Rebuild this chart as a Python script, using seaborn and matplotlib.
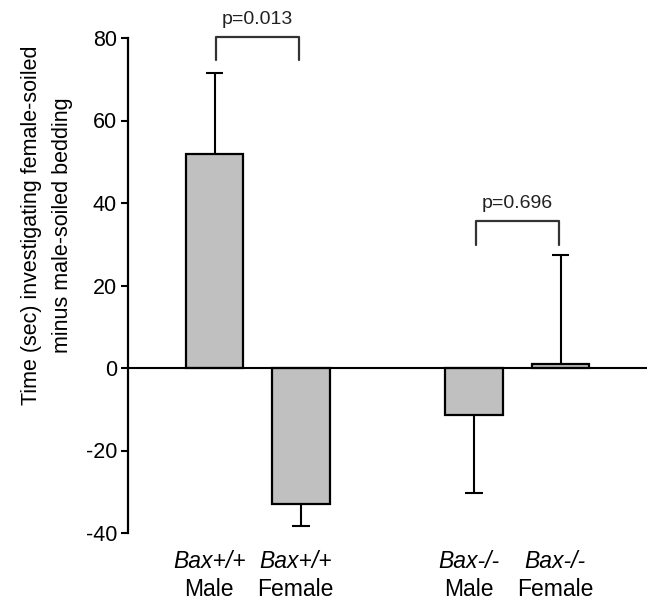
import numpy as np
import pandas as pd
import matplotlib
matplotlib.use("Agg")
import matplotlib.pyplot as plt
import matplotlib.transforms as mtransforms
import seaborn as sns

# ---- data ----
genotypes = ["Bax+/+", "Bax+/+", "Bax-/-", "Bax-/-"]
sexes = ["Male", "Female", "Male", "Female"]
means = [52.0, -33.0, -11.5, 1.0]
sems = [19.5, 5.4, 18.8, 26.3]
p_labels = ["p=0.013", "p=0.696"]
yticks = [-40, -20, 0, 20, 40, 60, 80]

sns.set_theme(style="white")
plt.rcParams["font.family"] = ["Liberation Sans", "DejaVu Sans"]
plt.rcParams["text.color"] = "black"
plt.rcParams["axes.labelcolor"] = "black"
plt.rcParams["ytick.color"] = "black"

cats = [f"{g} {s}" for g, s in zip(genotypes, sexes)]
df = pd.DataFrame({"cat": cats, "value": means})
order = [cats[0], cats[1], " ", cats[2], cats[3]]

fig = plt.figure(figsize=(6.62, 6.12), dpi=100)
ax = fig.add_axes([128 / 662, 1 - 533 / 612, (647 - 128) / 662, (533 - 38) / 612])

sns.barplot(data=df, x="cat", y="value", order=order, color="#c0c0c0",
            saturation=1, width=0.66, edgecolor="black", linewidth=1.6,
            errorbar=None, ax=ax, zorder=2)

xpos = [order.index(c) for c in cats]
capw = 0.1
for x, m, e in zip(xpos, means, sems):
    sgn = 1 if m >= 0 else -1
    end = m + sgn * e
    ax.vlines(x, m, end, color="black", lw=1.5, zorder=3)
    ax.hlines(end, x - capw, x + capw, color="black", lw=1.5, zorder=3)

ax.axhline(0, color="black", lw=1.5, zorder=4)

ax.set_xlim(-1, 5)
ax.set_ylim(-40, 80)
ax.set_yticks(yticks)
ax.set_yticklabels([str(t) for t in yticks], fontsize=15.5)
ax.tick_params(axis="y", left=True, length=5, width=1.5, pad=3, color="black",
               labelcolor="black")
ax.tick_params(axis="x", bottom=False, labelbottom=False)
ax.set_xlabel("")
for s in ["top", "right", "bottom"]:
    ax.spines[s].set_visible(False)
ax.spines["left"].set_linewidth(1.6)
ax.spines["left"].set_color("black")

ax.set_ylabel("Time (sec) investigating female-soiled\nminus male-soiled bedding",
              fontsize=15.5, linespacing=1.6, color="black")
ax.yaxis.set_label_coords(-0.106, 0.622)

trans = mtransforms.blended_transform_factory(ax.transData, ax.transAxes)
for x, g, s in zip(xpos, genotypes, sexes):
    ax.text(x - 0.06, -0.058, g, transform=trans, ha="center", va="center",
            fontsize=16.5, style="italic", color="black")
    ax.text(x - 0.06, -0.115, s, transform=trans, ha="center", va="center",
            fontsize=16.5, color="black")

# significance brackets
brackets = [(xpos[0], xpos[1], 80.2, 74.7, 84.5), (xpos[2], xpos[3], 35.6, 29.8, 39.8)]
for (x1, x2, top, leg, ty), lab in zip(brackets, p_labels):
    ax.plot([x1 + 0.02, x1 + 0.02, x2 - 0.02, x2 - 0.02], [leg, top, top, leg],
            color="#333333", lw=1.6, clip_on=False, zorder=5)
    ax.text((x1 + x2) / 2, ty, lab, ha="center", va="center", fontsize=14,
            color="#222222", clip_on=False)

fig.savefig("out.png", dpi=100)
